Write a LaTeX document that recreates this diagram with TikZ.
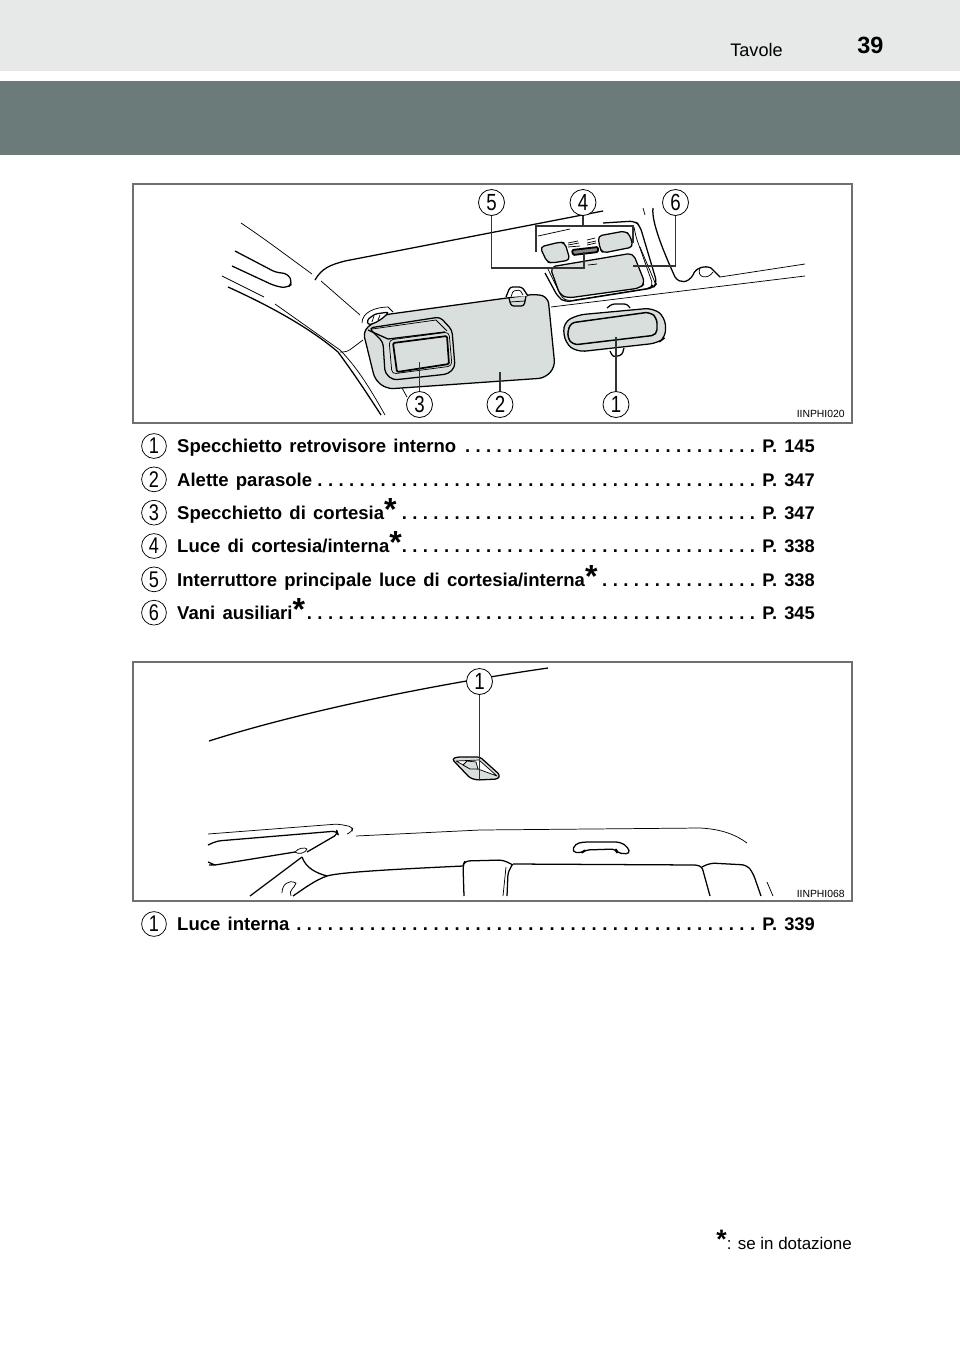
\documentclass[tikz,border=0pt]{standalone}
\usepackage{fontspec}
\setmainfont{Liberation Sans}
\newfontfamily\itemfont[WordSpace=1.4]{Liberation Sans}
\newfontfamily\digitfont[FakeStretch=0.8]{Liberation Sans}
\usetikzlibrary{positioning}
\definecolor{bandlight}{HTML}{E6E9E8}
\definecolor{banddark}{HTML}{6B7B7A}
\definecolor{partgray}{HTML}{D9DFDD}
\definecolor{framegray}{HTML}{707070}
\newlength{\dotgap}
\setlength{\dotgap}{7.91pt}
\newcommand{\dotrun}[1]{\hbox to #1\dotgap{\xleaders\hbox to \dotgap{\hss.\hss}\hfill}}
\newcommand{\starmark}{{\fontsize{24pt}{24pt}\selectfont\raisebox{-0.8pt}{*}}}
\tikzset{
    panel/.style={draw=framegray, line width=0.8pt},
    thinln/.style={line width=0.55pt, line join=round},
    thickln/.style={line width=0.95pt, line join=round},
    leader/.style={draw=black!80, line width=0.9pt},
    callout/.style={circle, draw=black, fill=white, line width=0.6pt, minimum size=19.5pt, inner sep=0pt, font=\digitfont\fontsize{17.5pt}{18pt}\selectfont},
    itemnum/.style={circle, draw=black, line width=0.55pt, minimum size=18.6pt, inner sep=0pt, font=\digitfont\fontsize{17pt}{18pt}\selectfont},
    itemtext/.style={anchor=base west, inner sep=0pt, xshift=17.2pt, yshift=-5pt, font=\itemfont\bfseries\fontsize{13.9pt}{15pt}\selectfont},
    pagetext/.style={anchor=base east, inner sep=0pt, font=\itemfont\bfseries\fontsize{13.7pt}{15pt}\selectfont},
    dottext/.style={anchor=base east, inner sep=0pt, xshift=-3pt, font=\itemfont\bfseries\fontsize{13.9pt}{15pt}\selectfont},
    figcode/.style={anchor=base east, inner sep=0pt, font=\fontsize{7.8pt}{9pt}\selectfont}
}
\begin{document}
\begin{tikzpicture}[x=0.75pt, y=-0.75pt]
    \useasboundingbox (0,0) rectangle (960,1347);
    % page header
    \fill[bandlight] (0,0) rectangle (960,71);
    \fill[banddark] (0,81) rectangle (960,155);
    \node[anchor=base west, inner sep=0pt, font=\fontsize{13.6pt}{15pt}\selectfont] (section) at (730,56) {Tavole};
    \node[anchor=base west, inner sep=0pt, font=\bfseries\fontsize{17.6pt}{18pt}\selectfont] (pageno) at (857,53) {39};

    % first figure
    \draw[panel] (133,184) rectangle (852,423);
    \draw[thinln] (241,223) .. controls (265,239) and (290,258) .. (312,274);
    \draw[thickln, rounded corners=4pt] (235,251) -- (277,273) -- (287,273) -- (293,283) -- (287,288) -- (275,286) -- (232,266);
    \draw[thinln] (222,276) -- (264,297);
    \draw[thickln] (228,287) .. controls (270,306) and (310,328) .. (338,352) .. controls (355,375) and (368,395) .. (381,415);
    \draw[thinln] (275,304) -- (340,350) .. controls (358,368) and (372,392) .. (385,415);
    \draw[thinln, rounded corners=3pt] (340,352) -- (347,352) -- (363,340);
    \draw[thickln] (315,280) .. controls (322,268) and (330,265) .. (345,261) -- (603,211);
    \draw[thinln] (321,281) -- (360,315);
    \draw[thinln] (402,388) -- (407,397);
    \draw[thinln] (551,307) -- (805,276);
    \draw[thinln] (720,277) -- (805,264);
    % visor
    \draw[thickln, fill=partgray, rounded corners=5pt] (363,331) -- (383,315) -- (536,294) -- (548,297) -- (555,367) -- (545,378) -- (387,389) -- (375,380) -- cycle;
    \draw[thickln, fill=white, rounded corners=2pt] (506,297) -- (510,287) -- (522,287) -- (528,296);
    \draw[thinln, rounded corners=1pt] (511,297) -- (513,291) -- (520,290) -- (523,295);
    \draw[thickln, rounded corners=2pt] (509,298) -- (511,306) -- (524,306) -- (526,296);
    \draw[thinln] (510,302) -- (525,301);
    % hook of the visor
    \draw[thinln] (362,323) .. controls (362,312) and (376,307) .. (388,307) -- (393,312);
    \draw[thickln, fill=white, rounded corners=2pt] (367,320) -- (375,314) -- (389,312) -- (383,318) -- (375,323) -- (368,325) -- cycle;
    \draw[thinln] (372,322) -- (374,316) (378,320) -- (380,315);
    % vanity mirror
    \draw[thickln, fill=partgray, rounded corners=3pt] (369,328) -- (440,317) -- (452,330) -- (455,367) -- (448,374) -- (393,380) -- (385,373) -- (383,342) -- cycle;
    \draw[thinln, rounded corners=3pt] (389,340) -- (449,332) -- (452,366) -- (392,374) -- cycle;
    \draw[line width=1.3pt, fill=partgray, rounded corners=1pt] (393,343) -- (447,336) -- (449,364) -- (397,372) -- cycle;
    \draw[thickln] (368,330) -- (388,339) -- (445,332);
    \draw[thinln] (372,329) -- (436,320) -- (447,331);
    % rear-view mirror
    \draw[thickln, rounded corners=2pt] (607,308) -- (612,304) -- (627,304) -- (630,308);
    \draw[thickln, rounded corners=2pt] (610,351) -- (613,357) -- (622,355) -- (624,348);
    \draw[thickln, fill=partgray, rounded corners=6pt] (563,323) -- (577,315) -- (653,308) -- (665,317) -- (666,337) -- (658,343) -- (577,352) -- (565,343) -- cycle;
    \draw[line width=1.1pt, fill=partgray, rounded corners=4pt] (570,323) -- (650,312) -- (657,318) -- (657,335) -- (573,345) -- (567,337) -- cycle;
    % overhead console
    \draw[thickln, rounded corners=4pt] (603,223) -- (635,221) -- (640,226) -- (657,283) -- (653,288) -- (565,302) -- (558,297) -- (545,273);
    \draw[thinln] (538,236) -- (570,229);
    \draw[thinln] (640,247) -- (656,285);
    \draw[thinln, rounded corners=3pt] (547,267) -- (562,298) -- (568,301) -- (650,288) -- (653,285) -- (636,237) -- (634,227);
    \draw[thickln, fill=partgray, rounded corners=4pt] (550,267) -- (633,253) -- (645,283) -- (640,288) -- (568,298) -- (560,295) -- cycle;
    \draw[thickln, fill=partgray, rounded corners=3pt] (540,247) -- (560,242) -- (565,243) -- (570,260) -- (552,263) -- (547,262) -- cycle;
    \draw[thickln, fill=partgray, rounded corners=3pt] (598,236) -- (625,231) -- (630,235) -- (633,247) -- (603,253) -- (600,249) -- cycle;
    \draw[line width=1.4pt, rounded corners=1pt, fill=black!45] (572,250) -- (598,247) -- (598,252) -- (573,255) -- cycle;
    \draw[thinln] (568,243) -- (578,241) (568,245) -- (579,243) (568,247) -- (580,246);
    \draw[thinln] (587,240) -- (595,238) (587,243) -- (596,241) (587,245) -- (596,243);
    \draw[thinln] (588,265) -- (597,264);
    \draw[thinln] (643,208) -- (645,215);
    \draw[thickln] (653,208) .. controls (651,222) and (665,255) .. (675,277) .. controls (680,284) and (688,283) .. (693,275) .. controls (695,268) and (705,265) .. (711,268) -- (720,277);
    \draw[thinln] (700,268) .. controls (696,278) and (708,280) .. (713,272);

    % leaders of the first figure
    \node[callout] (fa5) at (491.5,202.5) {5};
    \node[callout] (fa4) at (583,202.5) {4};
    \node[callout] (fa6) at (675.5,202.5) {6};
    \node[callout] (fa3) at (419.5,404.5) {3};
    \node[callout] (fa2) at (500,404.5) {2};
    \node[callout] (fa1) at (616,404.5) {1};
    \coordinate (end1) at (616,337);
    \coordinate (end2) at (500,372);
    \coordinate (end3) at (419.5,362);
    \coordinate (brace4) at (583,226);
    \coordinate (end4a) at (536,252);
    \coordinate (end4b) at (633,243);
    \coordinate (end5) at (584,252);
    \coordinate (end6) at (633,266);
    \draw[leader] (fa1) -- (end1);
    \draw[leader] (fa2) -- (end2);
    \draw[leader] (fa3) -- (end3);
    \draw[leader] (fa4) -- (brace4);
    \draw[leader] (end4a) |- (brace4) -| (end4b);
    \draw[leader] (fa5.south) |- (584,268) -- (end5);
    \draw[leader] (fa6.south) |- (end6);
    \node[figcode] (code1) at (845,417.5) {IINPHI020};

    % first list
    \coordinate (pagecol) at (815,0);
    \node[itemnum] (n1) at (154,446) {1};
    \node[itemnum, below=5.85pt of n1] (n2) {2};
    \node[itemnum, below=5.85pt of n2] (n3) {3};
    \node[itemnum, below=5.85pt of n3] (n4) {4};
    \node[itemnum, below=5.85pt of n4] (n5) {5};
    \node[itemnum, below=5.85pt of n5] (n6) {6};
    \node[itemtext] (t1) at (n1) {Specchietto retrovisore interno};
    \node[itemtext] (t2) at (n2) {Alette parasole};
    \node[itemtext] (t3) at (n3) {Specchietto di cortesia\starmark};
    \node[itemtext] (t4) at (n4) {Luce di cortesia/interna\starmark};
    \node[itemtext] (t5) at (n5) {Interruttore principale luce di cortesia/interna\starmark};
    \node[itemtext] (t6) at (n6) {Vani ausiliari\starmark};
    \node[pagetext] (p1) at (t1.base -| pagecol) {P. 145};
    \node[pagetext] (p2) at (t2.base -| pagecol) {P. 347};
    \node[pagetext] (p3) at (t3.base -| pagecol) {P. 347};
    \node[pagetext] (p4) at (t4.base -| pagecol) {P. 338};
    \node[pagetext] (p5) at (t5.base -| pagecol) {P. 338};
    \node[pagetext] (p6) at (t6.base -| pagecol) {P. 345};
    \node[dottext] at (p1.base west) {\dotrun{28}};
    \node[dottext] at (p2.base west) {\dotrun{42}};
    \node[dottext] at (p3.base west) {\dotrun{34}};
    \node[dottext] at (p4.base west) {\dotrun{34}};
    \node[dottext] at (p5.base west) {\dotrun{15}};
    \node[dottext] at (p6.base west) {\dotrun{43}};

    % second figure
    \draw[panel] (133,662) rectangle (852,901);
    \draw[thickln] (209,741) .. controls (300,712) and (430,685) .. (548,668);
    \draw[thinln, rounded corners=3pt] (208,834) -- (338,824) -- (353,827) -- (352,832) -- (347,834);
    \draw[thickln, rounded corners=3pt] (208,845) -- (217,841) -- (337,831) -- (338,834) -- (307,852);
    \draw[thickln] (215,865) -- (295,852);
    \draw[thickln] (208,862) -- (215,865) -- (209,865);
    \draw[thinln] (295,852) .. controls (298,848) and (305,847) .. (307,849) .. controls (306,853) and (298,855) .. (295,852);
    \draw[thickln] (302,857) -- (250,896);
    \draw[thickln] (302,857) .. controls (306,868) and (316,873) .. (327,876);
    \draw[thickln] (327,876) .. controls (340,872) and (400,869) .. (463,866);
    \draw[thickln] (327,876) .. controls (315,880) and (302,890) .. (293,896);
    \draw[thinln] (282,893) .. controls (282,885) and (288,879) .. (296,883) .. controls (295,888) and (288,890) .. (291,896);
    \draw[thickln, rounded corners=3pt] (464,896) -- (463,865) -- (465,861) -- (503,860) -- (513,865);
    \draw[thinln] (506,867) -- (503,896);
    \draw[thickln, rounded corners=2pt] (512,865) -- (508,873) -- (507,896);
    \draw[thickln, rounded corners=2pt] (513,864) -- (697,865) -- (702,867) -- (710,896);
    \draw[thickln, rounded corners=4pt] (702,867) -- (710,863) -- (747,865) -- (753,873) -- (761,896);
    \draw[thinln] (767,882) -- (773,896);
    \draw[thinln] (356,836) -- (480,830) -- (700,828) .. controls (720,829) and (735,834) .. (747,843);
    \draw[thickln, rounded corners=3pt] (572,852) -- (575,844) -- (583,842) -- (620,842) -- (628,847) -- (630,854) -- (617,853) -- (616,849) -- (585,850) -- (582,853) -- cycle;
    % lamp
    \draw[thickln, fill=partgray, rounded corners=2pt] (452,759) -- (457,757) -- (480,757) -- (500,775) -- (498,779) -- (477,780) -- (470,778) -- cycle;
    \draw[thinln, fill=white] (456,761) -- (479,760) -- (497,776) -- (478,769) -- (467,767) -- cycle;
    \draw[thinln, fill=partgray] (463,765) -- (467,761) -- (476,762) -- (478,769) -- (470,769) -- cycle;
    \node[callout] (fb1) at (479.5,681.5) {1};
    \coordinate (lamp) at (479.5,780);
    \draw[leader] (fb1) -- (lamp);
    \node[figcode] (code2) at (845,897) {IINPHI068};

    % second list and footnote
    \node[itemnum] (n7) at (154,924) {1};
    \node[itemtext] (t7) at (n7) {Luce interna};
    \node[pagetext] (p7) at (t7.base -| pagecol) {P. 339};
    \node[dottext] at (p7.base west) {\dotrun{44}};
    \node[anchor=base east, inner sep=0pt, font=\fontsize{12.7pt}{14pt}\selectfont] (note) at (852,1249) {{\bfseries\fontsize{20pt}{20pt}\selectfont\raisebox{0.4pt}{*}}: se in dotazione};
\end{tikzpicture}
\end{document}
